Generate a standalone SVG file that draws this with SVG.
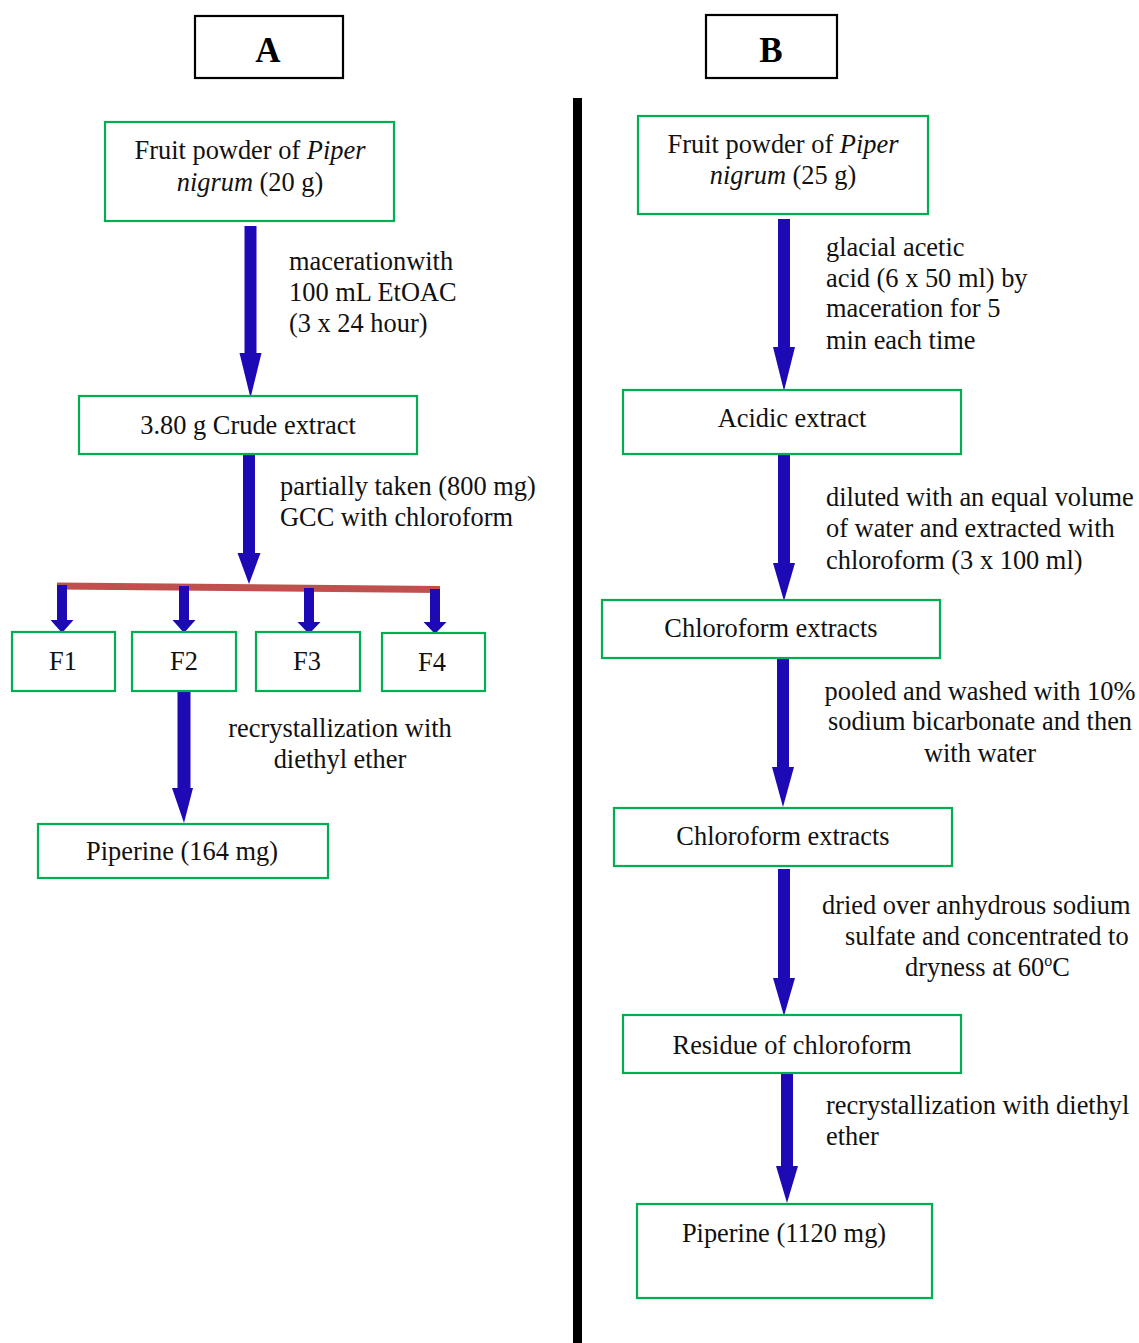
<svg xmlns="http://www.w3.org/2000/svg" width="1139" height="1343" viewBox="0 0 1139 1343">
<style>
  .t{font-family:"Liberation Serif","Times New Roman",serif;font-size:26.4px;fill:#111;}
  .c{text-anchor:middle;}
  .hdr{font-family:"Liberation Serif","Times New Roman",serif;font-size:35px;font-weight:bold;text-anchor:middle;fill:#000;}
  .hbox{fill:#fff;stroke:#000;stroke-width:2.2;}
  .node{fill:#fff;stroke:#00b050;stroke-width:2.2;}
  .arr{fill:#1d0ab5;stroke:none;}
  .bar{stroke:#c0504d;stroke-width:7;fill:none;}
</style>
<rect width="1139" height="1343" fill="#fff"/>
<rect x="573" y="98" width="9" height="1245" fill="#000"/>

<g id="headerA"><rect class="hbox" x="195" y="16" width="148" height="62"/><text class="hdr" x="268" y="62">A</text></g>
<g id="headerB"><rect class="hbox" x="706" y="15" width="131" height="63"/><text class="hdr" x="771" y="62">B</text></g>

<g id="connectors">
  <path class="arr" d="M244.5,226 H256.5 V353 H261.5 L250.5,398 L239.5,353 H244.5 Z"/>
  <path class="arr" d="M243,454 H255 V553 H260.5 L249,584 L237.5,553 H243 Z"/>
  <line class="bar" x1="57" y1="586" x2="440" y2="589.5"/>
  <path class="arr" d="M57,585 H67 V620 H73.5 L62,633 L50.5,620 H57 Z"/>
  <path class="arr" d="M179,586 H189 V620 H195.5 L184,633 L172.5,620 H179 Z"/>
  <path class="arr" d="M304,588 H314 V622 H320.5 L309,634 L297.5,622 H304 Z"/>
  <path class="arr" d="M430,589 H440 V622 H446.5 L435,634 L423.5,622 H430 Z"/>
  <path class="arr" d="M177.5,691 H190.5 V788 H193 L184,823 L172,788 H177.5 Z"/>
  <path class="arr" d="M778,219 H790 V347 H795 L784,391 L773,347 H778 Z"/>
  <path class="arr" d="M778,454 H790 V563 H795 L784,601 L773,563 H778 Z"/>
  <path class="arr" d="M777,658 H789 V767 H794 L783,807 L772,767 H777 Z"/>
  <path class="arr" d="M778,869 H790 V978 H795 L784,1016 L773,978 H778 Z"/>
  <path class="arr" d="M781,1072 H793 V1166 H798 L787,1203 L776,1166 H781 Z"/>
</g>

<g id="labels">
  <text class="t" x="289" y="269.5">macerationwith</text>
  <text class="t" x="289" y="300.5">100 mL EtOAC</text>
  <text class="t" x="289" y="331.5">(3 x 24 hour)</text>
  <text class="t" x="280" y="494.5">partially taken (800 mg)</text>
  <text class="t" x="280" y="525.5">GCC with chloroform</text>
  <text class="t c" x="340" y="736.5">recrystallization with</text>
  <text class="t c" x="340" y="767.5">diethyl ether</text>
  <text class="t" x="826" y="255.5">glacial acetic</text>
  <text class="t" x="826" y="286.5">acid (6 x 50 ml) by</text>
  <text class="t" x="826" y="316.5">maceration for 5</text>
  <text class="t" x="826" y="348.5">min each time</text>
  <text class="t" x="826" y="505.5">diluted with an equal volume</text>
  <text class="t" x="826" y="536.5">of water and extracted with</text>
  <text class="t" x="826" y="568.5">chloroform (3 x 100 ml)</text>
  <text class="t c" x="980" y="699.5">pooled and washed with 10%</text>
  <text class="t c" x="980" y="729.5">sodium bicarbonate and then</text>
  <text class="t c" x="980" y="761.5">with water</text>
  <text class="t" x="822" y="913.5">dried over anhydrous sodium</text>
  <text class="t" x="845" y="944.5">sulfate and concentrated to</text>
  <text class="t" x="905" y="975.5">dryness at 60<tspan font-size="16" dy="-10">o</tspan><tspan dy="10">C</tspan></text>
  <text class="t" x="826" y="1113.5">recrystallization with diethyl</text>
  <text class="t" x="826" y="1144.5">ether</text>
</g>

<g id="nodeA1"><rect class="node" x="105" y="122" width="289" height="99"/>
  <text class="t c" x="250" y="158.5">Fruit powder of <tspan font-style="italic">Piper</tspan></text>
  <text class="t c" x="250" y="190.5"><tspan font-style="italic">nigrum</tspan> (20 g)</text></g>
<g id="nodeA2"><rect class="node" x="79" y="396" width="338" height="58"/><text class="t c" x="248" y="433.5">3.80 g Crude extract</text></g>
<g id="nodeF1"><rect class="node" x="12" y="632" width="103" height="59"/><text class="t c" x="63" y="669.5">F1</text></g>
<g id="nodeF2"><rect class="node" x="132" y="632" width="104" height="59"/><text class="t c" x="184" y="669.5">F2</text></g>
<g id="nodeF3"><rect class="node" x="256" y="632" width="104" height="59"/><text class="t c" x="307" y="669.5">F3</text></g>
<g id="nodeF4"><rect class="node" x="382" y="633" width="103" height="58"/><text class="t c" x="432" y="670.5">F4</text></g>
<g id="nodeA3"><rect class="node" x="38" y="824" width="290" height="54"/><text class="t c" x="182" y="859.5">Piperine (164 mg)</text></g>

<g id="nodeB1"><rect class="node" x="638" y="116" width="290" height="98"/>
  <text class="t c" x="783" y="152.5">Fruit powder of <tspan font-style="italic">Piper</tspan></text>
  <text class="t c" x="783" y="183.5"><tspan font-style="italic">nigrum</tspan> (25 g)</text></g>
<g id="nodeB2"><rect class="node" x="623" y="390" width="338" height="64"/><text class="t c" x="792" y="426.5">Acidic extract</text></g>
<g id="nodeB3"><rect class="node" x="602" y="600" width="338" height="58"/><text class="t c" x="771" y="636.5">Chloroform extracts</text></g>
<g id="nodeB4"><rect class="node" x="614" y="808" width="338" height="58"/><text class="t c" x="783" y="844.5">Chloroform extracts</text></g>
<g id="nodeB5"><rect class="node" x="623" y="1015" width="338" height="58"/><text class="t c" x="792" y="1053.5">Residue of chloroform</text></g>
<g id="nodeB6"><rect class="node" x="637" y="1204" width="295" height="94"/><text class="t c" x="784" y="1241.5">Piperine (1120 mg)</text></g>
</svg>
